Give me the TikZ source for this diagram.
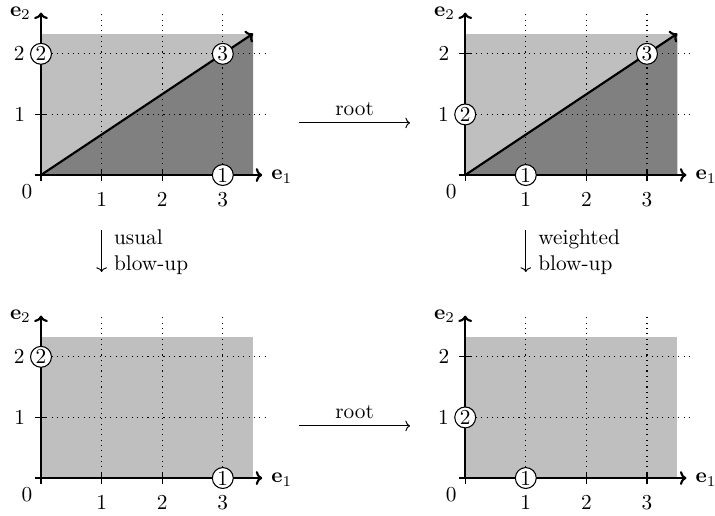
\documentclass[tikz,border=0pt]{standalone}
\usetikzlibrary{arrows.meta}
\tikzset{
  axis/.style={-{To[width=6.5pt,length=3pt]},line width=1pt},
  gridline/.style={dotted,line width=0.5pt},
  lightregion/.style={fill=black!25},
  darkregion/.style={fill=black!50},
  tickmark/.style={line width=0.5pt},
  circ/.style={circle,draw,fill=white,inner sep=0pt,minimum size=0.345cm,line width=0.5pt},
  mapto/.style={-{To[width=5pt,length=2.2pt]},line width=0.45pt},
}
\newcommand\panelbase[1]{%
  \foreach \x in {1,2,3} \draw[gridline] (\x,0) -- (\x,2.65);
  \foreach \y in {1,2} \draw[gridline] (0,\y) -- (3.7,\y);
  \foreach \x in {0,1,2,3} \draw[tickmark] (\x,-0.1) -- (\x,0.1);
  \foreach \y in {0,1,2} \draw[tickmark] (-0.1,\y) -- (0.1,\y);
  \coordinate (#1o) at (0,0);
  \coordinate (#1x) at (3.65,0);
  \coordinate (#1y) at (0,2.68);
  \draw[axis] (#1o) -- (#1x);
  \draw[axis] (#1o) -- (#1y);
  \node[anchor=west,inner sep=1pt] (#1e1) at (3.76,-0.03) {$\mathbf{e}_1$};
  \node[inner sep=0pt] (#1e2) at (-0.34,2.67) {$\mathbf{e}_2$};
  \node[inner sep=0pt] (#1l0) at (-0.23,-0.27) {$0$};
  \node[inner sep=0pt] (#1lx1) at (1,-0.4) {$1$};
  \node[inner sep=0pt] (#1lx2) at (2,-0.4) {$2$};
  \node[inner sep=0pt] (#1lx3) at (3,-0.4) {$3$};
}
\begin{document}
\begin{tikzpicture}
\useasboundingbox (-0.6766,-5.611) rectangle (11.122,2.888);

% top left
\begin{scope}
  \fill[lightregion] (0,0) rectangle (3.5,7/3);
  \fill[darkregion] (0,0) -- (3.5,0) -- (3.5,7/3) -- cycle;
  \panelbase{TL}
  \coordinate (TLd) at (3.5,7/3);
  \draw[axis] (TLo) -- (TLd);
  \node[inner sep=0pt] (TLly1) at (-0.35,1) {$1$};
  \node[inner sep=0pt] (TLly2) at (-0.36,2) {$2$};
  \node[circ] (TLc1) at (3,0) {1};
  \node[circ] (TLc2) at (0,2) {2};
  \node[circ] (TLc3) at (3,2) {3};
\end{scope}

% top right
\begin{scope}[shift={(7,0)}]
  \fill[lightregion] (0,0) rectangle (3.5,7/3);
  \fill[darkregion] (0,0) -- (3.5,0) -- (3.5,7/3) -- cycle;
  \panelbase{TR}
  \coordinate (TRd) at (3.5,7/3);
  \draw[axis] (TRo) -- (TRd);
  \node[inner sep=0pt] (TRly1) at (-0.36,1) {$1$};
  \node[inner sep=0pt] (TRly2) at (-0.35,2) {$2$};
  \node[circ] (TRc1) at (1,0) {1};
  \node[circ] (TRc2) at (0,1) {2};
  \node[circ] (TRc3) at (3,2) {3};
\end{scope}

% bottom left
\begin{scope}[shift={(0,-5)}]
  \fill[lightregion] (0,0) rectangle (3.5,7/3);
  \panelbase{BL}
  \node[inner sep=0pt] (BLly1) at (-0.35,1) {$1$};
  \node[inner sep=0pt] (BLly2) at (-0.36,2) {$2$};
  \node[circ] (BLc1) at (3,0) {1};
  \node[circ] (BLc2) at (0,2) {2};
\end{scope}

% bottom right
\begin{scope}[shift={(7,-5)}]
  \fill[lightregion] (0,0) rectangle (3.5,7/3);
  \panelbase{BR}
  \node[inner sep=0pt] (BRly1) at (-0.36,1) {$1$};
  \node[inner sep=0pt] (BRly2) at (-0.35,2) {$2$};
  \node[circ] (BRc1) at (1,0) {1};
  \node[circ] (BRc2) at (0,1) {2};
\end{scope}

% maps
\coordinate (r1a) at (4.26,0.86);
\coordinate (r1b) at (6.09,0.86);
\draw[mapto] (r1a) -- node[above,inner sep=3pt] (r1l) {root} (r1b);
\coordinate (r2a) at (4.26,-4.14);
\coordinate (r2b) at (6.09,-4.14);
\draw[mapto] (r2a) -- node[above,inner sep=3pt] (r2l) {root} (r2b);

\coordinate (v1a) at (1,-0.91);
\coordinate (v1b) at (1,-1.6);
\draw[mapto] (v1a) -- (v1b);
\node[anchor=west,align=left,inner sep=0pt] (v1l) at (1.2,-1.27) {usual\\blow-up};
\coordinate (v2a) at (8,-0.91);
\coordinate (v2b) at (8,-1.6);
\draw[mapto] (v2a) -- (v2b);
\node[anchor=west,align=left,inner sep=0pt] (v2l) at (8.2,-1.27) {weighted\\blow-up};
\end{tikzpicture}
\end{document}
